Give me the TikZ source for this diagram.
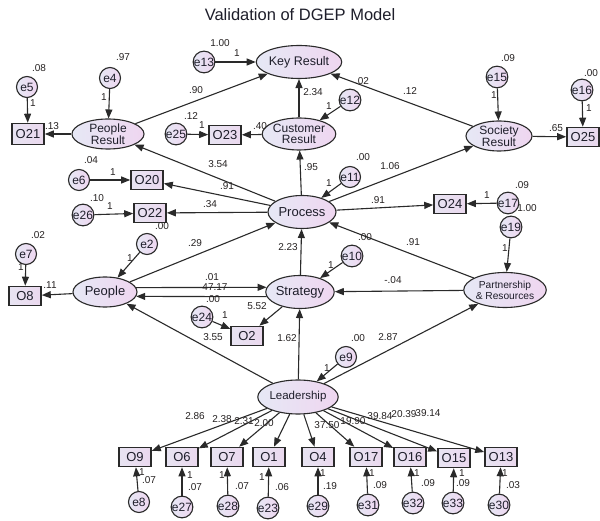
\documentclass[tikz,border=0pt]{standalone}
\usepackage{fontspec}
\setmainfont{Liberation Sans}
\usetikzlibrary{shapes.geometric,arrows.meta}
\definecolor{edge}{HTML}{2A2A2A}
\definecolor{fillL}{HTML}{E6E8F5}
\definecolor{fillR}{HTML}{EFD6F0}
\definecolor{boxL}{HTML}{E8E4F2}
\definecolor{boxR}{HTML}{EAD8EE}
\definecolor{txt}{HTML}{1E1E2A}
\definecolor{numc}{HTML}{262222}
\tikzset{
  lat/.style={ellipse, draw=edge, line width=1.1pt, left color=fillL, right color=fillR,
    inner sep=0pt, align=center, text=txt, font=\fontsize{12}{12}\selectfont},
  err/.style={circle, draw=edge, line width=1.1pt, left color=fillL, right color=fillR,
    minimum size=21pt, inner sep=0pt, text=txt, font=\fontsize{12}{12}\selectfont},
  obs/.style={rectangle, draw=edge, line width=1.6pt, left color=boxL, right color=boxR,
    minimum width=32pt, minimum height=19pt, inner sep=1pt, text=txt,
    font=\fontsize{13}{13}\selectfont},
  arr/.style={-{Triangle[length=9pt,width=7pt]}, line width=1.1pt, draw=edge},
  num/.style={inner sep=0pt, text=numc, font=\fontsize{10}{10}\selectfont},
}
\begin{document}
\begin{tikzpicture}[x=1pt,y=-1pt]
\fill[white] (0,0) rectangle (600,521);
\useasboundingbox (0,0) rectangle (600,521);

\node[text=txt, font=\fontsize{16.5}{16.5}\selectfont] (title) at (300,15) {Validation of DGEP Model};

% latent variables
\node[lat, minimum width=65pt, minimum height=33pt, font=\fontsize{12.5}{12.5}\selectfont] (KR) at (299,62) {Key Result};
\node[lat, minimum width=72pt, minimum height=30pt, font=\fontsize{12}{11.5}\selectfont] (PR) at (108,134) {People\\Result};
\node[lat, minimum width=72pt, minimum height=32pt, font=\fontsize{12}{11.5}\selectfont] (CR) at (299,134) {Customer\\Result};
\node[lat, minimum width=66pt, minimum height=30pt, font=\fontsize{12}{11.5}\selectfont] (SR) at (499,136) {Society\\Result};
\node[lat, minimum width=68pt, minimum height=33pt, font=\fontsize{13}{13}\selectfont] (Proc) at (302,212) {Process};
\node[lat, minimum width=64pt, minimum height=33pt, font=\fontsize{13}{13}\selectfont] (Strat) at (300,292) {Strategy};
\node[lat, minimum width=64pt, minimum height=30pt, font=\fontsize{13}{13}\selectfont] (Peop) at (105,292) {People};
\node[lat, minimum width=66pt, minimum height=35pt, font=\fontsize{10.2}{11}\selectfont] (Part) at (505,290) {Partnership\\\& Resources};
\node[lat, minimum width=62pt, minimum height=34pt, font=\fontsize{11.5}{11.5}\selectfont] (Lead) at (298,397) {Leadership};

% observed indicators
\node[obs, minimum height=21pt] (O21) at (28,134) {O21};
\node[obs] (O23) at (225,135) {O23};
\node[obs] (O25) at (583,137) {O25};
\node[obs] (O20) at (147,180) {O20};
\node[obs] (O22) at (150,213) {O22};
\node[obs] (O24) at (450,204) {O24};
\node[obs] (O8) at (25,296) {O8};
\node[obs] (O2) at (247,336) {O2};
\node[obs] (O9) at (135,457) {O9};
\node[obs] (O6) at (182,457) {O6};
\node[obs] (O7) at (227,457) {O7};
\node[obs] (O1) at (269,457) {O1};
\node[obs] (O4) at (318,457) {O4};
\node[obs] (O17) at (366,457) {O17};
\node[obs] (O16) at (410,457) {O16};
\node[obs] (O15) at (454,458) {O15};
\node[obs] (O13) at (501,457) {O13};

% error terms
\node[err] (e13) at (204,62) {e13};
\node[err] (e4) at (110,78) {e4};
\node[err] (e5) at (27,87) {e5};
\node[err] (e25) at (176,134) {e25};
\node[err] (e12) at (350,100) {e12};
\node[err] (e15) at (497,77) {e15};
\node[err] (e16) at (582,90) {e16};
\node[err] (e6) at (79,180) {e6};
\node[err] (e26) at (83,215) {e26};
\node[err] (e11) at (350,177) {e11};
\node[err] (e17) at (508,203) {e17};
\node[err] (e19) at (511,227) {e19};
\node[err] (e2) at (147,244) {e2};
\node[err] (e7) at (26,254) {e7};
\node[err] (e10) at (352,256) {e10};
\node[err] (e24) at (202,317) {e24};
\node[err] (e9) at (346,357) {e9};
\node[err] (e8) at (139,502) {e8};
\node[err] (e27) at (182,507) {e27};
\node[err] (e28) at (228,506) {e28};
\node[err] (e23) at (268,508) {e23};
\node[err] (e29) at (318,506) {e29};
\node[err] (e31) at (368,505) {e31};
\node[err] (e32) at (413,503) {e32};
\node[err] (e33) at (453,503) {e33};
\node[err] (e30) at (499,505) {e30};

% structural paths
\draw[arr] (PR) -- (KR);
\draw[arr] (CR) -- (KR);
\draw[arr] (SR) -- (KR);
\draw[arr] (Proc) -- (PR);
\draw[arr] (Proc) -- (CR);
\draw[arr] (Proc) -- (SR);
\draw[arr] (Peop) -- (Proc);
\draw[arr] (Strat) -- (Proc);
\draw[arr] (Part) -- (Proc);
\draw[arr] (Peop.8) -- (Strat.172);
\draw[arr] (Strat.188) -- (Peop.352);
\draw[arr] (Part) -- (Strat);
\draw[arr] (Lead) -- (Peop);
\draw[arr] (Lead) -- (Strat);
\draw[arr] (Lead) -- (Part);

% measurement paths
\draw[arr] (PR) -- (O21);
\draw[arr] (CR) -- (O23);
\draw[arr] (SR) -- (O25);
\draw[arr] (Proc) -- (O20);
\draw[arr] (Proc) -- (O22);
\draw[arr] (Proc) -- (O24);
\draw[arr] (Peop) -- (O8);
\draw[arr] (Strat) -- (O2);
\foreach \o in {O9,O6,O7,O1,O4,O17,O16,O15,O13}
  \draw[arr] (Lead) -- (\o);

% error paths
\draw[arr] (e13) -- (KR);
\draw[arr] (e4) -- (PR);
\draw[arr] (e5) -- (O21);
\draw[arr] (e25) -- (O23);
\draw[arr] (e12) -- (CR);
\draw[arr] (e15) -- (SR);
\draw[arr] (e16) -- (O25);
\draw[arr] (e6) -- (O20);
\draw[arr] (e26) -- (O22);
\draw[arr] (e11) -- (Proc);
\draw[arr] (e17) -- (O24);
\draw[arr] (e19) -- (Part);
\draw[arr] (e2) -- (Peop);
\draw[arr] (e7) -- (O8);
\draw[arr] (e10) -- (Strat);
\draw[arr] (e24) -- (O2);
\draw[arr] (e9) -- (Lead);
\draw[arr] (e8) -- (O9);
\draw[arr] (e27) -- (O6);
\draw[arr] (e28) -- (O7);
\draw[arr] (e23) -- (O1);
\draw[arr] (e29) -- (O4);
\draw[arr] (e31) -- (O17);
\draw[arr] (e32) -- (O16);
\draw[arr] (e33) -- (O15);
\draw[arr] (e30) -- (O13);

% estimates, top block
\node[num] (n1) at (220,43) {1.00};
\node[num] (n2) at (237,53) {1};
\node[num] (n3) at (196,90) {.90};
\node[num] (n4) at (362,81) {.02};
\node[num] (n5) at (410,91) {.12};
\node[num] (n6) at (313,92) {2.34};
\node[num] (n7) at (329,106) {1};
\node[num] (n8) at (191,116) {.12};
\node[num] (n9) at (202,125) {1};
\node[num] (n10) at (260,126) {.40};
\node[num] (n11) at (123,57) {.97};
\node[num] (n12) at (104,97) {1};
\node[num] (n13) at (39,68) {.08};
\node[num] (n14) at (33,103) {1};
\node[num] (n15) at (52,126) {.13};
\node[num] (n16) at (508,58) {.09};
\node[num] (n17) at (494,95) {1};
\node[num] (n18) at (591,73) {.00};
\node[num] (n19) at (589,108) {1};
\node[num] (n20) at (556,128) {.65};

% estimates, middle block
\node[num] (m1) at (91,160) {.04};
\node[num] (m2) at (113,172) {1};
\node[num] (m3) at (218,164) {3.54};
\node[num] (m4) at (227,186) {.91};
\node[num] (m5) at (97,198) {.10};
\node[num] (m6) at (110,206) {1};
\node[num] (m7) at (210,204) {.34};
\node[num] (m8) at (162,226) {.00};
\node[num] (m9) at (38,235) {.02};
\node[num] (m10) at (195,243) {.29};
\node[num] (m11) at (311,167) {.95};
\node[num] (m12) at (363,157) {.00};
\node[num] (m13) at (329,183) {1};
\node[num] (m14) at (390,166) {1.06};
\node[num] (m15) at (378,200) {.91};
\node[num] (m16) at (487,195) {1};
\node[num] (m17) at (522,185) {.09};
\node[num] (m18) at (527,208) {1.00};
\node[num] (m19) at (505,248) {1};
\node[num] (m20) at (365,237) {.00};
\node[num] (m21) at (413,242) {.91};
\node[num] (m22) at (288,247) {2.23};
\node[num] (m23) at (331,265) {1};
\node[num] (m24) at (130,258) {1};
\node[num] (m25) at (21,267) {1};
\node[num] (m26) at (50,285) {.11};
\node[num] (m27) at (212,277) {.01};
\node[num] (m28) at (215,287) {47.17};
\node[num] (m29) at (213,299) {.00};
\node[num] (m30) at (257,306) {5.52};
\node[num] (m31) at (225,315) {1};
\node[num] (m32) at (213,337) {3.55};
\node[num] (m33) at (287,338) {1.62};
\node[num] (m34) at (393,280) {-.04};
\node[num] (m35) at (358,338) {.00};
\node[num] (m36) at (388,337) {2.87};
\node[num] (m37) at (327,368) {1};

% estimates, leadership indicators
\node[num] (b1) at (195,416) {2.86};
\node[num] (b2) at (222,419) {2.38};
\node[num] (b3) at (244,421) {2.31};
\node[num] (b4) at (264,423) {2.00};
\node[num] (b5) at (327,425) {37.50};
\node[num] (b6) at (353,421) {19.90};
\node[num] (b7) at (380,416) {39.84};
\node[num] (b8) at (404,414) {20.39};
\node[num] (b9) at (428,413) {39.14};

% estimates, indicator errors
\node[num] (c1) at (142,472) {1};   \node[num] (d1) at (149,480) {.07};
\node[num] (c2) at (190,475) {1};   \node[num] (d2) at (195,487) {.07};
\node[num] (c3) at (222,475) {1};   \node[num] (d3) at (242,486) {.07};
\node[num] (c4) at (262,477) {1};   \node[num] (d4) at (282,487) {.06};
\node[num] (c5) at (323,473) {1};   \node[num] (d5) at (330,486) {.19};
\node[num] (c6) at (372,473) {1};   \node[num] (d6) at (380,485) {.09};
\node[num] (c7) at (417,473) {1};   \node[num] (d7) at (428,483) {.09};
\node[num] (c8) at (462,473) {1};   \node[num] (d8) at (463,483) {.09};
\node[num] (c9) at (505,473) {1};   \node[num] (d9) at (513,485) {.03};
\end{tikzpicture}
\end{document}
